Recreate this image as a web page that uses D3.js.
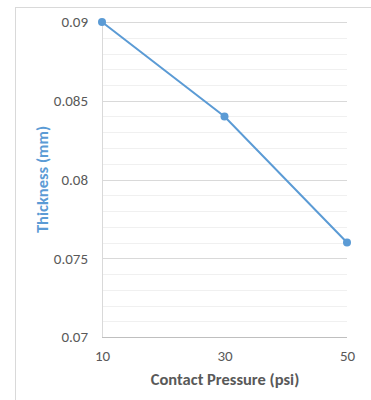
<!DOCTYPE html>
<head>
  <meta charset="utf-8">
  <script src="https://d3js.org/d3.v7.min.js"></script>
  <style>
    body { margin: 0; background: #fff; }
    text { font-family: Calibri, Carlito, "Open Sans", sans-serif; }
  </style>
</head>
<body>
  <svg id="chart"></svg>
  <script>
    const pressure = [10, 30, 50];
    const thickness = [0.09, 0.084, 0.076];
    const yTicks = [0.07, 0.075, 0.08, 0.085, 0.09];
    const yTickLabels = ["0.07", "0.075", "0.08", "0.085", "0.09"];
    const xTickLabels = ["10", "30", "50"];

    const svg_width = 371, svg_height = 400;
    const margin = { top: 22, right: 24, bottom: 63, left: 102 };

    const svg = d3.select("#chart")
      .attr("width", svg_width)
      .attr("height", svg_height);

    // chart frame
    svg.append("rect")
      .attr("x", 15.5).attr("y", 7.5)
      .attr("width", 400).attr("height", 420)
      .attr("fill", "none")
      .attr("stroke", "#d9d9d9");

    const x = d3.scalePoint()
      .domain(pressure)
      .range([margin.left, svg_width - margin.right]);

    const y = d3.scaleLinear()
      .domain([0.07, 0.09])
      .range([svg_height - margin.bottom, margin.top]);

    // minor gridlines
    const minor = d3.range(71, 90).map(d => d / 1000).filter(d => Math.round(d * 1000) % 5 !== 0);
    svg.append("g").selectAll("line")
      .data(minor)
      .join("line")
      .attr("x1", margin.left).attr("x2", svg_width - margin.right)
      .attr("y1", d => Math.round(y(d)) + 0.5).attr("y2", d => Math.round(y(d)) + 0.5)
      .attr("stroke", "#f0f0f0");

    // major gridlines
    svg.append("g").selectAll("line")
      .data(yTicks.slice(1))
      .join("line")
      .attr("x1", margin.left).attr("x2", svg_width - margin.right)
      .attr("y1", d => Math.round(y(d)) + 0.5).attr("y2", d => Math.round(y(d)) + 0.5)
      .attr("stroke", "#d9d9d9");

    // y axis line
    svg.append("line")
      .attr("x1", margin.left + 0.5).attr("x2", margin.left + 0.5)
      .attr("y1", margin.top).attr("y2", y(0.07))
      .attr("stroke", "#d9d9d9");

    // x axis line
    svg.append("line")
      .attr("x1", margin.left).attr("x2", svg_width - margin.right)
      .attr("y1", Math.round(y(0.07)) + 0.5).attr("y2", Math.round(y(0.07)) + 0.5)
      .attr("stroke", "#bfbfbf");

    const yAxis = d3.axisLeft(y)
      .tickValues(yTicks)
      .tickFormat((d, i) => yTickLabels[i])
      .tickSize(0)
      .tickPadding(14);

    svg.append("g")
      .attr("transform", "translate(" + margin.left + ",0)")
      .call(yAxis)
      .call(g => g.select(".domain").remove())
      .selectAll("text")
      .attr("fill", "#595959")
      .style("font-size", "15px");

    const xAxis = d3.axisBottom(x)
      .tickFormat((d, i) => xTickLabels[i])
      .tickSize(0)
      .tickPadding(13);

    svg.append("g")
      .attr("transform", "translate(0," + y(0.07) + ")")
      .call(xAxis)
      .call(g => g.select(".domain").remove())
      .selectAll("text")
      .attr("fill", "#595959")
      .style("font-size", "15px");

    const line = d3.line()
      .x((d, i) => x(pressure[i]))
      .y(d => y(d));

    svg.append("path")
      .datum(thickness)
      .attr("d", line)
      .attr("fill", "none")
      .attr("stroke", "#5b9bd5")
      .attr("stroke-width", 2);

    svg.append("g").selectAll("circle")
      .data(thickness)
      .join("circle")
      .attr("cx", (d, i) => x(pressure[i]))
      .attr("cy", d => y(d))
      .attr("r", 4)
      .attr("fill", "#5b9bd5");

    // axis titles
    svg.append("text")
      .attr("x", 225)
      .attr("y", 385)
      .attr("text-anchor", "middle")
      .attr("fill", "#595959")
      .style("font-size", "16.5px")
      .style("font-weight", "bold")
      .text("Contact Pressure (psi)");

    svg.append("text")
      .attr("transform", "translate(48," + ((margin.top + y(0.07)) / 2) + ") rotate(-90)")
      .attr("text-anchor", "middle")
      .attr("fill", "#5b9bd5")
      .style("font-size", "16.5px")
      .style("font-weight", "bold")
      .text("Thickness (mm)");
  </script>
</body>
